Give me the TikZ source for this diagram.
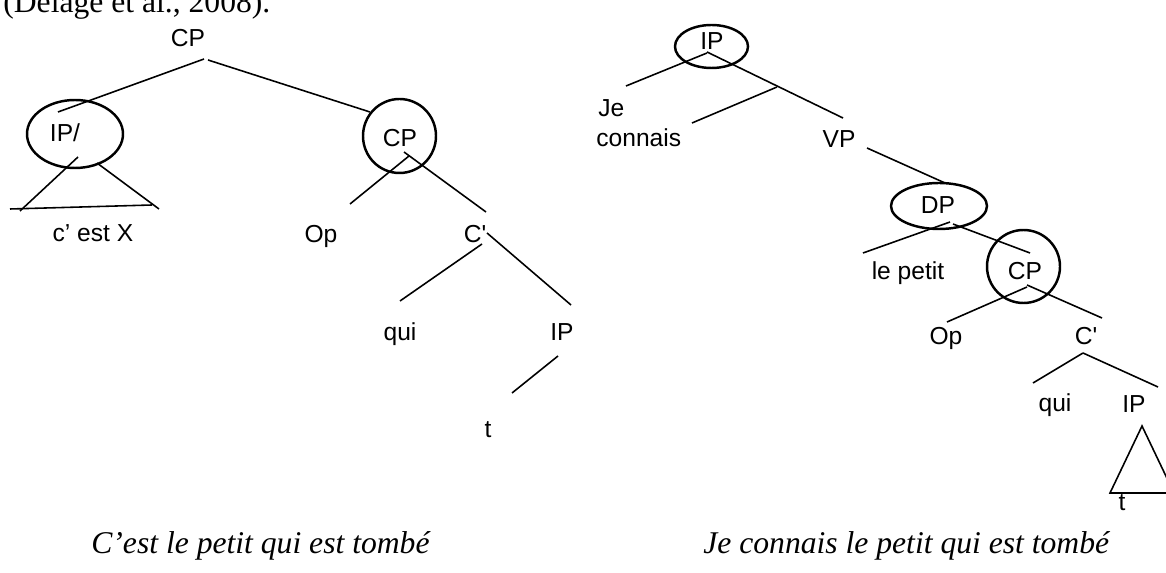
\documentclass[tikz,border=0pt]{standalone}
\usepackage{fontspec}
\setmainfont{Liberation Serif}
\setsansfont{Liberation Sans}
\usepackage{tikz}

\begin{document}
\begin{tikzpicture}[x=0.02cm, y=-0.02cm,
        cat/.style={font=\sffamily\fontsize{14}{16}\selectfont, inner sep=0pt, anchor=base},
        gloss/.style={font=\itshape\fontsize{18}{20}\selectfont, inner sep=0pt, anchor=base west},
        ring/.style={line width=1.4pt},
        branch/.style={line width=0.9pt}]
    \useasboundingbox (0,0) rectangle (1166,573);
    \clip (0,0) rectangle (1166,573);
    \node[anchor=base west, inner sep=0pt, font=\fontsize{18}{20}\selectfont] (src) at (3,13) {(Délage et al., 2008).};

    % C'est le petit qui est tombe
    \node[cat] (cp0) at (188,47) {CP};
    \node[cat] (ip0) at (65,142) {IP/};
    \node[cat] (cest) at (93,242) {c’ est X};
    \node[cat] (cp1) at (400,147) {CP};
    \node[cat] (op1) at (321,243) {Op};
    \node[cat] (cb1) at (475,243) {C\textquotesingle};
    \node[cat] (qui1) at (400,341) {qui};
    \node[cat] (ip1) at (562,341) {IP};
    \node[cat] (t1) at (488,438) {t};
    \draw[ring] (75,134) ellipse [x radius=48, y radius=34];
    \draw[ring] (399.5,136) ellipse [x radius=36.5, y radius=37];

    \coordinate (cp0 l) at (204,59);  \coordinate (ip0 u) at (58,112);
    \coordinate (cp0 r) at (208,60);  \coordinate (cp1 u) at (370,112);
    \coordinate (ip0 l) at (78,157);  \coordinate (tri0 a) at (20,211);
    \coordinate (ip0 r) at (97,163);  \coordinate (tri0 b) at (159,209);
    \coordinate (tri0 c) at (10,209); \coordinate (tri0 d) at (152,205);
    \coordinate (cp1 l) at (409,156); \coordinate (op1 u) at (350,204);
    \coordinate (cp1 r) at (404,152); \coordinate (cb1 u) at (486,212);
    \coordinate (cb1 l) at (482,244); \coordinate (qui1 u) at (400,301);
    \coordinate (cb1 r) at (487,233); \coordinate (ip1 u) at (571,305);
    \coordinate (ip1 d) at (558,356); \coordinate (t1 u) at (512,393);
    \draw[branch] (cp0 l) -- (ip0 u);
    \draw[branch] (cp0 r) -- (cp1 u);
    \draw[branch] (ip0 l) -- (tri0 a);
    \draw[branch] (ip0 r) -- (tri0 b);
    \draw[branch] (tri0 c) -- (tri0 d);
    \draw[branch] (cp1 l) -- (op1 u);
    \draw[branch] (cp1 r) -- (cb1 u);
    \draw[branch] (cb1 l) -- (qui1 u);
    \draw[branch] (cb1 r) -- (ip1 u);
    \draw[branch] (ip1 d) -- (t1 u);

    % Je connais le petit qui est tombe
    \node[cat] (ip2) at (712,50) {IP};
    \node[cat, anchor=base west] (je) at (598,117) {Je};
    \node[cat, anchor=base west] (connais) at (596,147) {connais};
    \node[cat] (vp) at (839,148) {VP};
    \node[cat] (dp) at (938,214) {DP};
    \node[cat] (petit) at (908,280) {le petit};
    \node[cat] (cp2) at (1025,280) {CP};
    \node[cat] (op2) at (946,345) {Op};
    \node[cat] (cb2) at (1086,345) {C\textquotesingle};
    \node[cat] (qui2) at (1055,412) {qui};
    \node[cat] (ip3) at (1134,413) {IP};
    \node[cat] (t2) at (1122,511) {t};
    \draw[ring] (711.5,46.5) ellipse [x radius=36.5, y radius=21.5];
    \draw[ring] (939,206) ellipse [x radius=48, y radius=23];
    \draw[ring] (1023.5,266.5) ellipse [x radius=36.5, y radius=36.5];

    \coordinate (ip2 l) at (707,53);   \coordinate (je u) at (626,86);
    \coordinate (ip2 r) at (707,52);   \coordinate (vp u) at (843,118);
    \coordinate (v node) at (777,87);  \coordinate (connais u) at (692,123);
    \coordinate (vp d) at (867,148);   \coordinate (dp u) at (945,183);
    \coordinate (dp l) at (950,222);   \coordinate (petit u) at (863,253);
    \coordinate (dp r) at (953,224);   \coordinate (cp2 u) at (1030,253);
    \coordinate (cp2 l) at (1027,287); \coordinate (op2 u) at (947,322);
    \coordinate (cp2 r) at (1027,285); \coordinate (cb2 u) at (1102,318);
    \coordinate (cb2 d) at (1083,353); \coordinate (qui2 u) at (1033,383);
    \coordinate (ip3 u) at (1158,387);
    \draw[branch] (ip2 l) -- (je u);
    \draw[branch] (ip2 r) -- (vp u);
    \draw[branch] (v node) -- (connais u);
    \draw[branch] (vp d) -- (dp u);
    \draw[branch] (dp l) -- (petit u);
    \draw[branch] (dp r) -- (cp2 u);
    \draw[branch] (cp2 l) -- (op2 u);
    \draw[branch] (cp2 r) -- (cb2 u);
    \draw[branch] (cb2 d) -- (qui2 u);
    \draw[branch] (cb2 d) -- (ip3 u);
    \draw[branch] (1142,426) coordinate (tri2 a) -- (1110,493) coordinate (tri2 b)
        -- (1174,493) coordinate (tri2 c) -- cycle;

    \node[gloss] (ex1) at (91,554) {C’est le petit qui est tombé};
    \node[gloss] (ex2) at (703,554) {Je connais le petit qui est tombé};
\end{tikzpicture}
\end{document}
